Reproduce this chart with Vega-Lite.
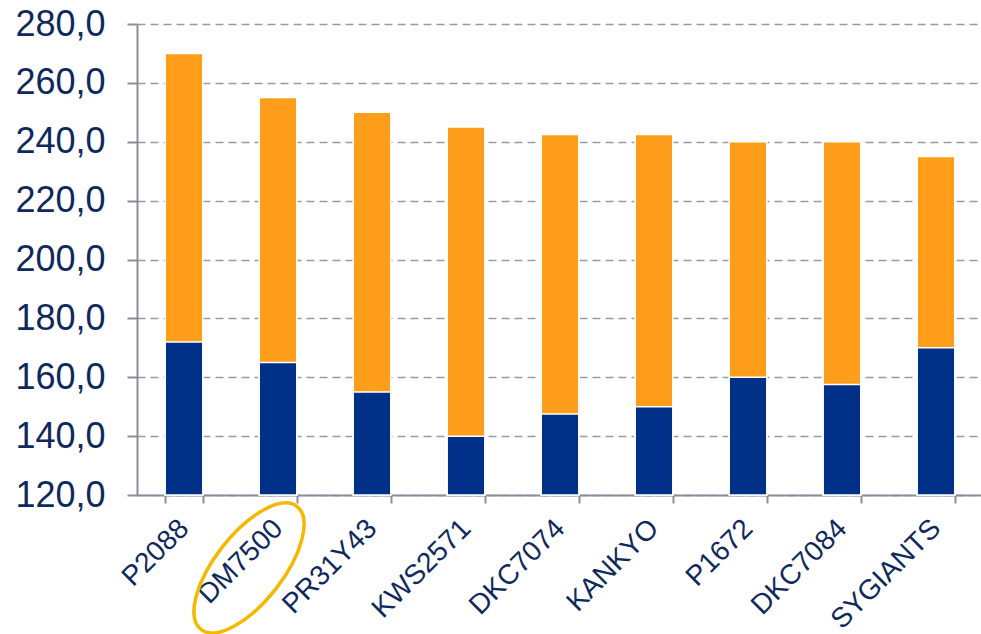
{
  "$schema": "https://vega.github.io/schema/vega-lite/v6.json",
  "width": 846,
  "height": 471,
  "autosize": "none",
  "padding": {"left": 137, "top": 24, "right": 0, "bottom": 139},
  "background": "white",
  "config": {"view": {"stroke": null}, "font": "Liberation Sans"},
  "data": {"values": [
    {"hybrid": "P2088", "low": 172, "high": 270},
    {"hybrid": "DM7500", "low": 165, "high": 255},
    {"hybrid": "PR31Y43", "low": 155, "high": 250},
    {"hybrid": "KWS2571", "low": 140, "high": 245},
    {"hybrid": "DKC7074", "low": 147.5, "high": 242.5},
    {"hybrid": "KANKYO", "low": 150, "high": 242.5},
    {"hybrid": "P1672", "low": 160, "high": 240},
    {"hybrid": "DKC7084", "low": 157.5, "high": 240},
    {"hybrid": "SYGIANTS", "low": 170, "high": 235}
  ]},
  "encoding": {
    "x": {
      "field": "hybrid", "type": "nominal", "sort": null,
      "scale": {"paddingInner": 0.6, "paddingOuter": 0.3},
      "axis": {
        "title": null, "tickBand": "extent", "labelAngle": -45, "labelAlign": "right",
        "labelBaseline": "middle", "labelFontSize": 28, "labelColor": "#10295c",
        "labelPadding": 21, "tickSize": 8, "tickColor": "#8c8c9c", "tickWidth": 2,
        "domainColor": "#8c8c9c", "domainWidth": 2, "grid": false
      }
    }
  },
  "layer": [
    {
      "mark": {"type": "bar", "color": "#FF9E1B", "stroke": "white", "strokeWidth": 1.5},
      "encoding": {
        "y": {
          "field": "high", "type": "quantitative", "title": null,
          "scale": {"domain": [120, 280], "nice": false, "zero": false},
          "axis": {
            "values": [120, 140, 160, 180, 200, 220, 240, 260, 280],
            "labelExpr": "replace(format(datum.value, '.1f'), '.', ',')",
            "labelFontSize": 36, "labelColor": "#10295c", "labelPadding": 22,
            "tickSize": 10, "tickColor": "#8c8c9c", "tickWidth": 2,
            "domainColor": "#8c8c9c", "domainWidth": 2,
            "grid": true, "gridDash": [8, 5], "gridColor": "#9a9a9a", "gridWidth": 1.5
          }
        },
        "y2": {"datum": 120}
      }
    },
    {
      "mark": {"type": "bar", "color": "#003087", "stroke": "white", "strokeWidth": 1.5},
      "encoding": {
        "y": {"field": "low", "type": "quantitative", "title": null},
        "y2": {"datum": 120}
      }
    },
    {
      "data": {"values": [{"hybrid": "DM7500", "base": 120}]},
      "mark": {
        "type": "point",
        "shape": "M -1 0 A 1 0.436 0 1 0 1 0 A 1 0.436 0 1 0 -1 0 Z",
        "size": 24336, "angle": -52, "filled": false, "opacity": 1,
        "stroke": "#F5B800", "strokeWidth": 3.5, "xOffset": -29, "yOffset": 73
      },
      "encoding": {"y": {"field": "base", "type": "quantitative", "title": null}}
    }
  ]
}
